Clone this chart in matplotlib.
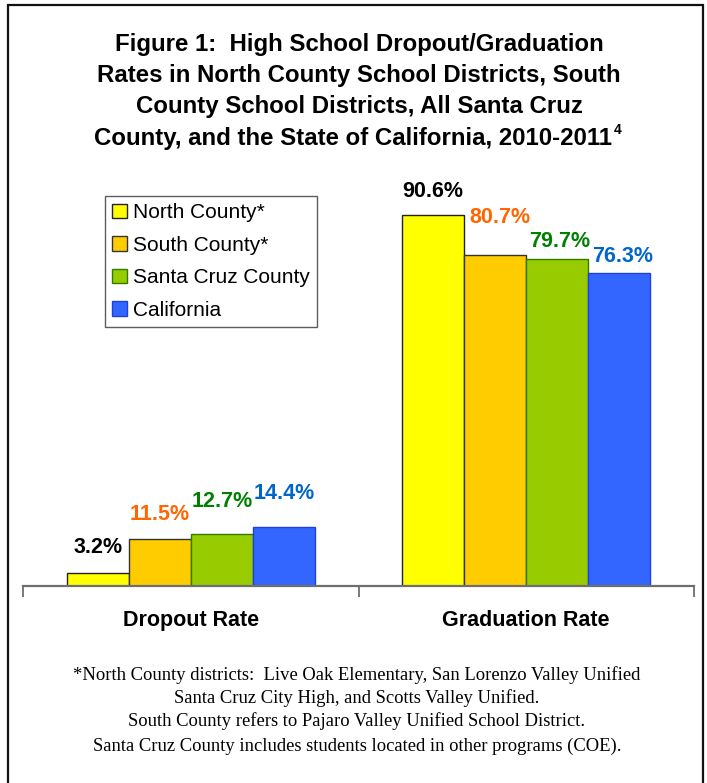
import matplotlib
matplotlib.use("Agg")
import matplotlib.pyplot as plt
from matplotlib.patches import Rectangle
import numpy as np

categories = ["Dropout Rate", "Graduation Rate"]
series = ["North County*", "South County*", "Santa Cruz County", "California"]
north = [3.2, 90.6]
south = [11.5, 80.7]
santa_cruz = [12.7, 79.7]
california = [14.4, 76.3]
values = [north, south, santa_cruz, california]
labels_fmt = "{:.1f}%"

title_lines = ["Figure 1:  High School Dropout/Graduation",
               "Rates in North County School Districts, South",
               "County School Districts, All Santa Cruz",
               "County, and the State of California, 2010-2011"]
title_sup = "4"
footnote_lines = ["*North County districts:  Live Oak Elementary, San Lorenzo Valley Unified",
                  "Santa Cruz City High, and Scotts Valley Unified.",
                  "South County refers to Pajaro Valley Unified School District.",
                  "Santa Cruz County includes students located in other programs (COE)."]

# styles
fill_colors = ["#FFFF00", "#FFCC00", "#99CC00", "#3366FF"]
edge_colors = ["#222222", "#333333", "#2E7D00", "#1F3FE0"]
label_colors = ["#000000", "#FF6600", "#008000", "#0066CC"]
# label offsets above bar top (pixels), per series per category
label_dy = [[25, 23], [24, 38], [32, 18], [33, 17]]
label_dx = [[0, 0], [0, 5], [0, 2], [0, 3]]

W, H = 707, 783
fig = plt.figure(figsize=(W / 100, H / 100), dpi=100)
fig.patch.set_facecolor("white")

# outer border
fig.add_artist(Rectangle((8 / W, -0.01), (703 - 8) / W, 1.01 - 5 / H, transform=fig.transFigure,
                         fill=False, edgecolor="#111111", linewidth=1.6))

ax_left, ax_right = 23 / W, 694 / W
ax_bottom = (H - 586) / H
ax_top = (H - 176) / H
ax = fig.add_axes([ax_left, ax_bottom, ax_right - ax_left, ax_top - ax_bottom])
ax.set_xlim(-0.5, 1.5)
ax.set_ylim(0, 100)

x = np.arange(len(categories))
bw = 0.185
for i, (vals, fc, ec) in enumerate(zip(values, fill_colors, edge_colors)):
    xs = x + (i - 1.5) * bw
    ax.bar(xs, vals, width=bw, color=fc, edgecolor=ec, linewidth=1.0, label=series[i], zorder=2)
    for j, (xx, v) in enumerate(zip(xs, vals)):
        ax.annotate(labels_fmt.format(v), (xx, v),
                    xytext=(label_dx[i][j] * 0.72, label_dy[i][j] * 0.72), textcoords="offset points",
                    ha="center", va="center", fontsize=15.5, fontweight="bold",
                    color=label_colors[i], family="Liberation Sans")

for s in ["top", "left", "right"]:
    ax.spines[s].set_visible(False)
ax.spines["bottom"].set_color("#6E6E6E")
ax.spines["bottom"].set_linewidth(1.6)
ax.set_yticks([])
ax.set_xticks(x)
ax.set_xticklabels(categories, fontsize=15.5, fontweight="bold", family="Liberation Sans")
ax.tick_params(axis="x", which="major", length=0, pad=17)
ax.set_xticks([-0.5, 0.5, 1.5], minor=True)
ax.tick_params(axis="x", which="minor", length=8, width=1.3, color="#6E6E6E", direction="out")

leg = fig.legend(loc="upper left", bbox_to_anchor=(105 / W, 1 - 196 / H), bbox_transform=fig.transFigure,
                 prop={"family": "Liberation Sans", "size": 15}, frameon=True, fancybox=False,
                 handlelength=0.7, handleheight=0.7, handletextpad=0.3, labelspacing=0.65,
                 borderpad=0.35, borderaxespad=0)
leg.get_frame().set_edgecolor("#333333")
leg.get_frame().set_linewidth(1.0)

# title
base_y = [51, 82, 113, 145]
title_x = 359 / W
texts = []
for line, by in zip(title_lines, base_y):
    texts.append(fig.text(title_x, 1 - by / H, line, ha="center", va="baseline", fontsize=17.25,
                          fontweight="bold", family="Liberation Sans"))
last = texts[-1]
last.set_position((title_x - 6 / W, 1 - base_y[-1] / H))
fig.canvas.draw()
bb = last.get_window_extent(renderer=fig.canvas.get_renderer())
fig.text(bb.x1 / W + 2 / W, 1 - 134 / H, title_sup, ha="left", va="baseline", fontsize=10,
         fontweight="bold", family="Liberation Sans")

# footnote
foot_base = [680, 703, 726, 751]
for line, by in zip(footnote_lines, foot_base):
    fig.text(357 / W, 1 - by / H, line, ha="center", va="baseline", fontsize=13.4,
             family="Liberation Serif")

fig.savefig("out.png", dpi=100, facecolor="white")
